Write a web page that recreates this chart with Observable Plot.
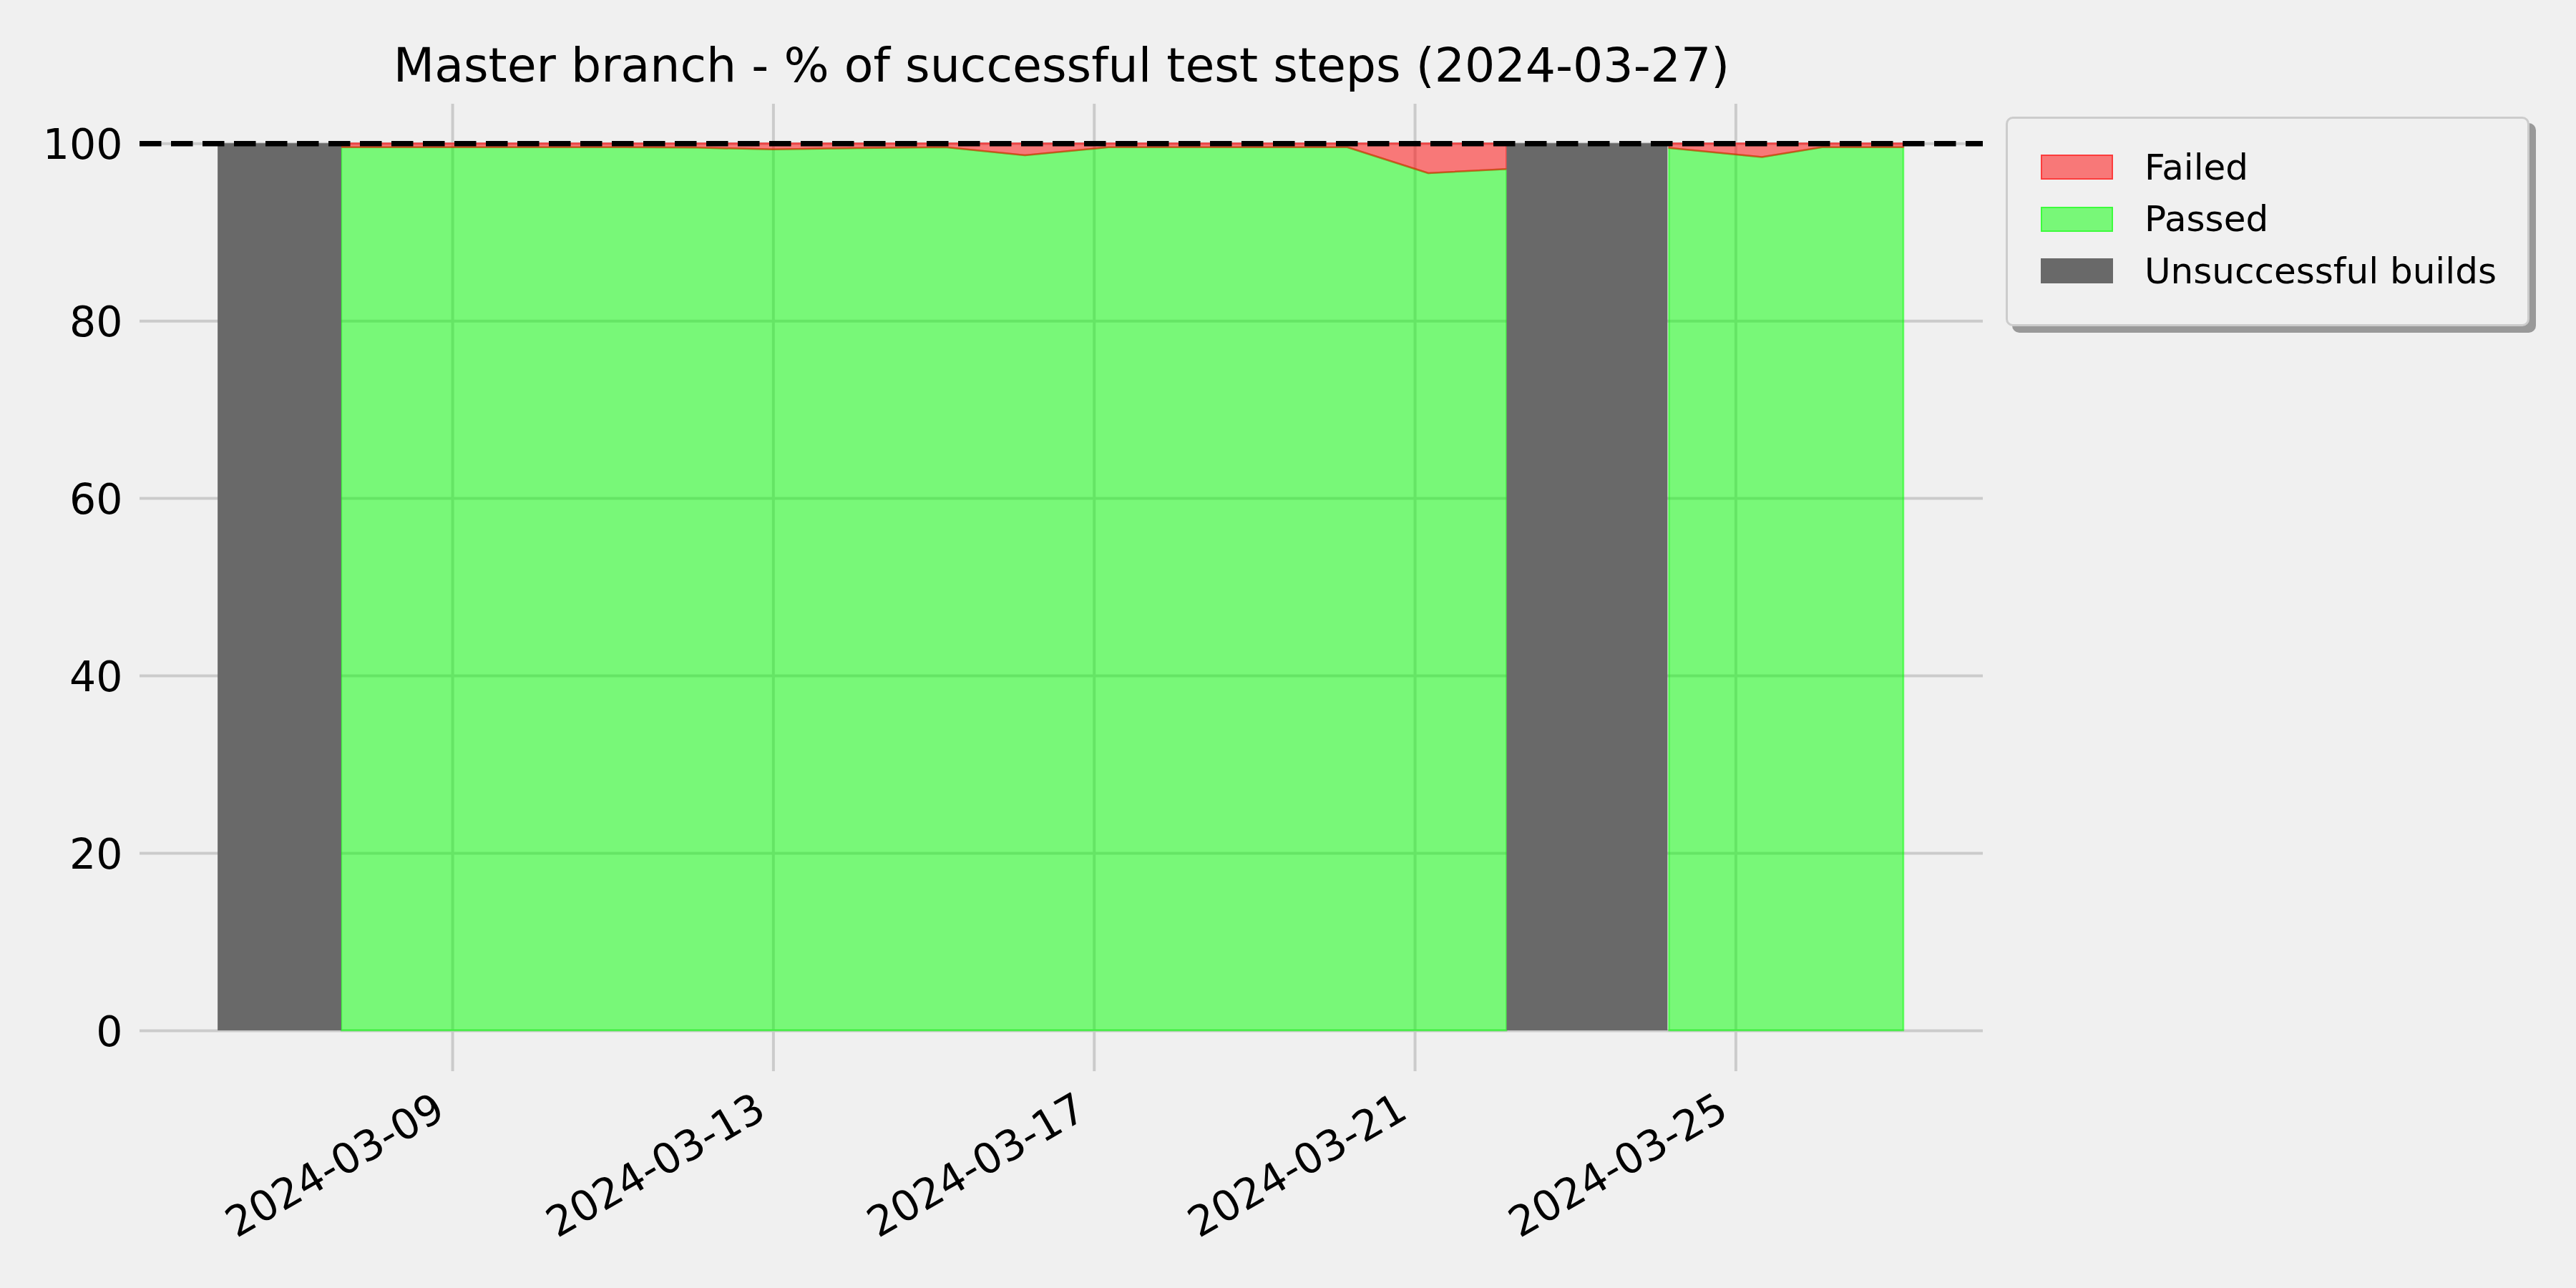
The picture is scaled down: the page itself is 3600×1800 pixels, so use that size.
<!DOCTYPE html>
<html>
<head>
<meta charset="utf-8">
<script src="https://cdn.jsdelivr.net/npm/d3@7"></script>
<script src="https://cdn.jsdelivr.net/npm/@observablehq/plot@0.6"></script>
<style>
  html, body { margin: 0; padding: 0; background: #f0f0f0; }
  #wrap { position: relative; width: 3600px; height: 1800px; background: #f0f0f0; font-family: "DejaVu Sans", sans-serif; overflow: hidden; }
  #chart { position: absolute; left: 0; top: 0; }
  #legend { position: absolute; left: 2803px; top: 163px; width: 732px; height: 293px; box-sizing: border-box;
            border: 3px solid #cccccc; border-radius: 10px; background: #f0f0f0; box-shadow: 9px 9px 0 #999999; }
  .row { position: absolute; left: 0; height: 35px; }
  .sw { position: absolute; left: 46px; top: 0; width: 101px; height: 35px; box-sizing: border-box; }
  .lab { position: absolute; left: 191px; top: 17.5px; transform: translateY(-50%); font-size: 50px; line-height: 1; white-space: nowrap; color: #000; }
</style>
</head>
<body>
<div id="wrap">
  <div id="chart"></div>
  <div id="legend"></div>
</div>
<script>
// ---- data ----
const titleText = "Master branch - % of successful test steps (2024-03-27)";

const buildTimes = [
  "2024-03-07T14:47Z", "2024-03-08T03:36Z", "2024-03-09T03:36Z", "2024-03-10T03:36Z",
  "2024-03-11T03:36Z", "2024-03-12T01:10Z", "2024-03-13T00:00Z", "2024-03-14T01:10Z",
  "2024-03-15T03:35Z", "2024-03-16T03:22Z", "2024-03-17T04:19Z", "2024-03-18T03:40Z",
  "2024-03-19T03:40Z", "2024-03-20T03:50Z", "2024-03-21T04:05Z", "2024-03-22T03:29Z",
  "2024-03-24T04:05Z", "2024-03-25T07:55Z", "2024-03-26T01:55Z", "2024-03-27T02:14Z"
];
const passedPct = [
  99.55, 99.55, 99.55, 99.55,
  99.55, 99.5, 99.3, 99.45,
  99.55, 98.65, 99.55, 99.55,
  99.55, 99.55, 96.63, 97.09,
  99.46, 98.44, 99.55, 99.55
];
const failedPct = [
  0.45, 0.45, 0.45, 0.45,
  0.45, 0.5, 0.7, 0.55,
  0.45, 1.35, 0.45, 0.45,
  0.45, 0.45, 3.37, 2.91,
  0.54, 1.56, 0.45, 0.45
];
const buildSegment = [
  1, 1, 1, 1, 1, 1, 1, 1, 1, 1, 1, 1, 1, 1, 1, 1,
  2, 2, 2, 2
];

const unsuccessfulStart = ["2024-03-06T01:47Z", "2024-03-22T03:29Z"];
const unsuccessfulEnd   = ["2024-03-07T14:47Z", "2024-03-24T03:39Z"];
const unsuccessfulPct   = [100, 100];

const xTickDates = ["2024-03-09", "2024-03-13", "2024-03-17", "2024-03-21", "2024-03-25"];
const yTicks = [0, 20, 40, 60, 80, 100];
const targetLine = [100];
const xDomain = ["2024-03-05T02:25Z", "2024-03-28T02:00Z"];
const yDomain = [-4.6, 104.45];

const legendLabels = ["Failed", "Passed", "Unsuccessful builds"];
const legendFills = ["rgba(255,0,0,0.5)", "rgba(0,255,0,0.5)", "#696969"];
const legendEdges = ["rgba(255,0,0,0.5)", "rgba(0,255,0,0.5)", "#696969"];

// ---- tables ----
const builds = buildTimes.map((t, i) => ({
  date: new Date(t), passed: passedPct[i], failed: failedPct[i], segment: buildSegment[i]
}));
const unsuccessful = unsuccessfulStart.map((s, i) => ({
  start: new Date(s), end: new Date(unsuccessfulEnd[i]), pct: unsuccessfulPct[i]
}));
const xTicks = xTickDates.map(d => new Date(d + "T00:00Z"));

const fmt = d3.utcFormat("%Y-%m-%d");

const chart = Plot.plot({
  width: 3600,
  height: 1800,
  marginLeft: 195,
  marginRight: 829,
  marginTop: 145,
  marginBottom: 303,
  style: { background: "transparent", fontFamily: "DejaVu Sans, sans-serif", color: "#000", overflow: "visible" },
  x: { type: "utc", domain: xDomain.map(d => new Date(d)) },
  y: { domain: yDomain },
  marks: [
    Plot.gridY(yTicks, { stroke: "#cbcbcb", strokeOpacity: 1, strokeWidth: 4 }),
    Plot.gridX(xTicks, { stroke: "#cbcbcb", strokeOpacity: 1, strokeWidth: 4 }),
    Plot.areaY(builds, {
      x: "date", y1: 0, y2: "passed", z: "segment",
      fill: "#00ff00", fillOpacity: 0.5, stroke: "#00ff00", strokeOpacity: 0.5, strokeWidth: 2.5
    }),
    Plot.areaY(builds, {
      x: "date", y1: "passed", y2: d => d.passed + d.failed, z: "segment",
      fill: "#ff0000", fillOpacity: 0.5, stroke: "#ff0000", strokeOpacity: 0.5, strokeWidth: 2.5
    }),
    Plot.rect(unsuccessful, { x1: "start", x2: "end", y1: 0, y2: "pct", fill: "#696969" }),
    Plot.ruleY(targetLine, { stroke: "#000", strokeWidth: 7.5, strokeDasharray: "30.5,13.5" }),
    Plot.axisY(yTicks, { tickSize: 0, tickPadding: 24, fontSize: 58.5, dy: 3, label: null }),
    Plot.axisX(xTicks, { tickSize: 0, tickPadding: 47, dx: -17, tickRotate: -30, fontSize: 58.5, tickFormat: fmt, label: null }),
    Plot.text([titleText], { frameAnchor: "top", lineAnchor: "bottom", dy: -32, fontSize: 66.5, fill: "#000" })
  ]
});
document.getElementById("chart").appendChild(chart);

// ---- legend ----
const legend = document.getElementById("legend");
legendLabels.forEach((lab, i) => {
  const row = document.createElement("div");
  row.className = "row";
  row.style.top = (50 + i * 72.6) + "px";
  row.style.width = "100%";
  const sw = document.createElement("div");
  sw.className = "sw";
  sw.style.background = legendFills[i];
  sw.style.border = "2px solid " + legendEdges[i];
  const t = document.createElement("div");
  t.className = "lab";
  t.textContent = lab;
  row.appendChild(sw);
  row.appendChild(t);
  legend.appendChild(row);
});
</script>
</body>
</html>
